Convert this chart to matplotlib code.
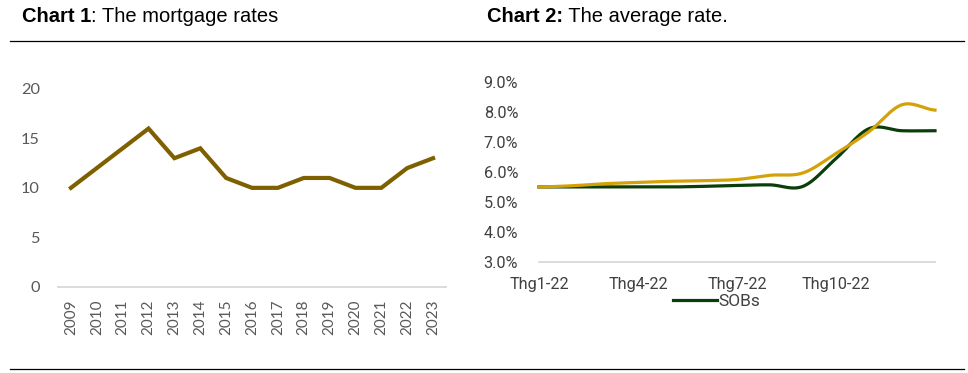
import numpy as np
import matplotlib
matplotlib.use("Agg")
import matplotlib.pyplot as plt
from matplotlib.lines import Line2D

# chart 1 data
years = [str(y) for y in range(2009, 2024)]
mortgage = [10, 12, 14, 16, 13, 14, 11, 10, 10, 11, 11, 10, 10, 12, 13]

# chart 2 data (monthly, Thg1-22 .. Thg1-23)
months = ["Thg1-22", "Thg2-22", "Thg3-22", "Thg4-22", "Thg5-22", "Thg6-22", "Thg7-22",
          "Thg8-22", "Thg9-22", "Thg10-22", "Thg11-22", "Thg12-22", "Thg1-23"]
sobs = [5.50, 5.50, 5.50, 5.50, 5.50, 5.52, 5.55, 5.57, 5.52, 6.45, 7.45, 7.38, 7.38]
others = [5.50, 5.54, 5.61, 5.65, 5.69, 5.71, 5.75, 5.89, 5.97, 6.62, 7.35, 8.25, 8.07]
tick_months = ["Thg1-22", "Thg4-22", "Thg7-22", "Thg10-22"]

GREEN = "#0b3d0b"
GOLD = "#d4a106"
OLIVE = "#7f6000"
AXIS_GRAY = "#d9d9d9"


def smooth(xs, ys, n=24):
    # catmull-rom curve through the points (like Excel's smoothed line)
    xs = np.asarray(xs, float)
    ys = np.asarray(ys, float)
    px = np.concatenate([[2 * xs[0] - xs[1]], xs, [2 * xs[-1] - xs[-2]]])
    py = np.concatenate([[ys[0]], ys, [ys[-1]]])
    outx, outy = [], []
    for i in range(1, len(px) - 2):
        t = np.linspace(0, 1, n, endpoint=False)
        for p, out in ((px, outx), (py, outy)):
            p0, p1, p2, p3 = p[i - 1], p[i], p[i + 1], p[i + 2]
            out.extend(0.5 * (2 * p1 + (-p0 + p2) * t
                              + (2 * p0 - 5 * p1 + 4 * p2 - p3) * t ** 2
                              + (-p0 + 3 * p1 - 3 * p2 + p3) * t ** 3))
    outx.append(xs[-1])
    outy.append(ys[-1])
    return np.array(outx), np.array(outy)


W, H = 968, 373
fig = plt.figure(figsize=(W / 100, H / 100), dpi=100)


def fx(px):
    return px / W


def fy(py):
    return 1 - py / H


# --- chart 1 ---
ax1 = fig.add_axes([fx(58), fy(286.7), fx(446 - 58), (286.7 - 89) / H])
x1 = np.arange(len(years))
ax1.plot(x1, mortgage, color=OLIVE, lw=3.0, solid_joinstyle="miter", clip_on=False)
ax1.set_xlim(-0.5, len(years) - 0.5)
ax1.set_ylim(0, 20)
ax1.set_yticks([0, 5, 10, 15, 20])
ax1.set_xticks(x1)
ax1.set_xticklabels(years, rotation=90)
for s in ["top", "right", "left"]:
    ax1.spines[s].set_visible(False)
ax1.spines["bottom"].set_color(AXIS_GRAY)
ax1.spines["bottom"].set_linewidth(1.3)
ax1.tick_params(length=0, colors="#595959", labelsize=11)
ax1.tick_params(axis="y", pad=13, labelsize=11.8)
ax1.tick_params(axis="x", pad=9)
for lab in ax1.get_xticklabels() + ax1.get_yticklabels():
    lab.set_fontfamily("Lato")

# --- chart 2 ---
ax2 = fig.add_axes([fx(539), fy(261.7), fx(935 - 539), (261.7 - 82.3) / H])
x2 = np.arange(len(months))
sx, sy = smooth(x2, sobs)
ox, oy = smooth(x2, others)
ax2.plot(sx, sy, color=GREEN, lw=2.3, label="SOBs", clip_on=False)
ax2.plot(ox, oy, color=GOLD, lw=2.3, clip_on=False)
ax2.set_xlim(0, len(months) - 1)
ax2.set_ylim(3, 9)
ax2.set_yticks(np.arange(3, 10))
ax2.set_yticklabels([f"{v:.1f}%" for v in np.arange(3, 10)])
ax2.set_xticks([months.index(m) for m in tick_months])
ax2.set_xticklabels(tick_months)
for s in ["top", "right", "left"]:
    ax2.spines[s].set_visible(False)
ax2.spines["bottom"].set_color(AXIS_GRAY)
ax2.spines["bottom"].set_linewidth(1.3)
ax2.tick_params(length=0, colors="#404040", labelsize=11.7)
ax2.tick_params(axis="y", pad=15)
ax2.tick_params(axis="x", pad=11)
for lab in ax2.get_xticklabels() + ax2.get_yticklabels():
    lab.set_fontfamily("Roboto")
leg = ax2.legend(loc="center", bbox_to_anchor=(fx(717), fy(301.5)),
                 bbox_transform=fig.transFigure, frameon=False, handlelength=2.5,
                 handletextpad=0.1, prop={"family": "Roboto", "size": 12.5})
for t in leg.get_texts():
    t.set_color("#404040")

# --- titles and rules ---
renderer = fig.canvas.get_renderer()


def title(x, bold, rest):
    t = fig.text(fx(x), fy(22), bold, fontsize=14.5, fontweight="bold",
                 family="Liberation Sans", va="baseline")
    bb = t.get_window_extent(renderer)
    fig.text(bb.x1 / W, fy(22), rest, fontsize=14.5, family="Liberation Sans",
             va="baseline")


title(21.5, "Chart 1", ": The mortgage rates")
title(487, "Chart 2:", " The average rate.")

for yy in (41.3, 369):
    fig.add_artist(Line2D([fx(10), fx(964)], [fy(yy), fy(yy)], color="black", lw=0.9))

fig.savefig("out.png", dpi=100)
